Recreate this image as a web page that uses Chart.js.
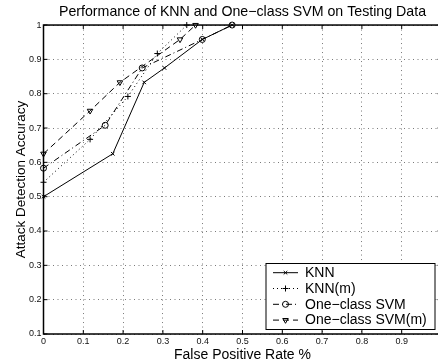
<!DOCTYPE html>
<html>
<head>
<meta charset="utf-8">
<script src="https://cdn.jsdelivr.net/npm/chart.js@4.4.1/dist/chart.umd.min.js"></script>
<style>
  html, body { margin: 0; padding: 0; background: #fff; overflow: hidden; }
  #wrap { width: 444px; height: 364px; }
</style>
</head>
<body>
<div id="wrap"><canvas id="perf" width="444" height="364"></canvas></div>
<script>
// values
const seriesNames = ["KNN", "KNN(m)", "One\u2212class SVM", "One\u2212class SVM(m)"];

const knnFpr = [0, 0.174, 0.253, 0.304, 0.399, 0.474];
const knnAcc = [0.5, 0.625, 0.833, 0.875, 0.958, 1.0];

const knnMFpr = [0, 0.117, 0.212, 0.286, 0.36];
const knnMAcc = [0.542, 0.667, 0.792, 0.917, 1.0];

const svmFpr = [0, 0.155, 0.248, 0.399, 0.474];
const svmAcc = [0.583, 0.708, 0.875, 0.958, 1.0];

const svmMFpr = [0, 0.117, 0.192, 0.343, 0.382];
const svmMAcc = [0.625, 0.75, 0.833, 0.958, 1.0];

const xTicks = [0, 0.1, 0.2, 0.3, 0.4, 0.5, 0.6, 0.7, 0.8, 0.9, 1];
const yTicks = [0.1, 0.2, 0.3, 0.4, 0.5, 0.6, 0.7, 0.8, 0.9, 1];

const FONT = "'Liberation Sans', Arial, Helvetica, sans-serif";

function pts(xs, ys) {
  return xs.map((x, i) => ({ x: x, y: ys[i] }));
}

function fmt(v) {
  return String(Math.round(v * 10) / 10);
}

const lineStyles = [
  { dash: [], pointStyle: "crossRot", radius: 2.5, rotation: 0 },
  { dash: [1, 3], pointStyle: "cross", radius: 3, rotation: 0 },
  { dash: [6, 3, 1, 3], pointStyle: "circle", radius: 3, rotation: 0 },
  { dash: [6, 4], pointStyle: "triangle", radius: 3.2, rotation: 180 }
];

const allData = [pts(knnFpr, knnAcc), pts(knnMFpr, knnMAcc), pts(svmFpr, svmAcc), pts(svmMFpr, svmMAcc)];

const datasets = allData.map((d, i) => ({
  label: seriesNames[i],
  data: d,
  showLine: true,
  borderColor: "#000",
  borderWidth: 1,
  borderDash: lineStyles[i].dash,
  pointStyle: lineStyles[i].pointStyle,
  pointRadius: lineStyles[i].radius,
  pointRotation: lineStyles[i].rotation,
  pointBorderColor: "#000",
  pointBackgroundColor: "rgba(0,0,0,0)",
  pointBorderWidth: 1,
  clip: false
}));

// frame, inward tick marks and the boxed legend
const framePlugin = {
  id: "frame",
  afterDraw(chart) {
    const ctx = chart.ctx;
    const a = chart.chartArea;
    const xs = chart.scales.x, ys = chart.scales.y;
    ctx.save();
    ctx.strokeStyle = "#000";
    ctx.lineWidth = 1.5;
    ctx.strokeRect(a.left, a.top, a.right - a.left, a.bottom - a.top);
    ctx.lineWidth = 1;
    ctx.beginPath();
    xTicks.forEach(v => {
      const px = xs.getPixelForValue(v);
      ctx.moveTo(px, a.bottom); ctx.lineTo(px, a.bottom - 4);
      ctx.moveTo(px, a.top); ctx.lineTo(px, a.top + 4);
    });
    yTicks.forEach(v => {
      const py = ys.getPixelForValue(v);
      ctx.moveTo(a.left, py); ctx.lineTo(a.left + 4, py);
      ctx.moveTo(a.right, py); ctx.lineTo(a.right - 4, py);
    });
    ctx.stroke();

    // legend
    const lx = 266, ly = 263.5, lw = 169, lh = 66;
    ctx.fillStyle = "#fff";
    ctx.fillRect(lx, ly, lw, lh);
    ctx.strokeStyle = "#000";
    ctx.lineWidth = 1;
    ctx.strokeRect(lx, ly, lw, lh);
    ctx.font = "14px " + FONT;
    ctx.textBaseline = "middle";
    chart.data.datasets.forEach((ds, i) => {
      const y = 272.7 + i * 15.8;
      ctx.save();
      ctx.strokeStyle = "#000";
      ctx.lineWidth = 1;
      ctx.setLineDash(ds.borderDash);
      ctx.beginPath();
      ctx.moveTo(273, y); ctx.lineTo(298, y);
      ctx.stroke();
      ctx.setLineDash([]);
      ctx.fillStyle = "rgba(0,0,0,0)";
      Chart.helpers.drawPoint(ctx, {
        pointStyle: ds.pointStyle,
        radius: ds.pointRadius,
        rotation: ds.pointRotation,
        borderWidth: 1
      }, 285.5, y);
      ctx.restore();
      ctx.fillStyle = "#000";
      ctx.fillText(ds.label, 305, y + 0.5);
    });
    ctx.restore();
  }
};

new Chart(document.getElementById("perf"), {
  type: "scatter",
  data: { datasets: datasets },
  options: {
    responsive: false,
    animation: false,
    layout: { autoPadding: false, padding: { top: 0, right: 2.5, bottom: 0, left: 0 } },
    plugins: {
      legend: { display: false },
      tooltip: { enabled: false },
      title: {
        display: true,
        fullSize: false,
        text: "Performance of KNN and One\u2212class SVM on Testing Data",
        color: "#000",
        font: { family: FONT, size: 14.2, weight: "normal" },
        padding: { top: 4, bottom: 4 }
      }
    },
    scales: {
      x: {
        type: "linear",
        min: 0,
        max: 1,
        afterFit: s => { s.height = 30; s.paddingLeft = 0; s.paddingRight = 0; },
        afterBuildTicks: s => { s.ticks = xTicks.map(v => ({ value: v })); },
        ticks: {
          color: "#111",
          font: { family: FONT, size: 9 },
          padding: 2,
          maxRotation: 0,
          autoSkip: false,
          callback: v => (v >= 0.999 ? "" : fmt(v))
        },
        grid: { color: "#7a7a7a", lineWidth: 1, drawTicks: false },
        border: { display: false, dash: [1, 3.5] },
        title: {
          display: true,
          text: "False Positive Rate %",
          color: "#000",
          font: { family: FONT, size: 14 },
          padding: { top: 0, bottom: 0 }
        }
      },
      y: {
        type: "linear",
        min: 0.1,
        max: 1,
        afterFit: s => { s.width = 43.5; s.paddingTop = 0; s.paddingBottom = 0; },
        afterBuildTicks: s => { s.ticks = yTicks.map(v => ({ value: v })); },
        ticks: {
          color: "#111",
          font: { family: FONT, size: 9 },
          padding: 2,
          autoSkip: false,
          callback: v => fmt(v)
        },
        grid: { color: "#7a7a7a", lineWidth: 1, drawTicks: false },
        border: { display: false, dash: [1, 3.5] },
        title: {
          display: true,
          text: "Attack Detection Accuracy",
          color: "#000",
          font: { family: FONT, size: 13.5 },
          padding: { top: 12.9, bottom: 0 }
        }
      }
    }
  },
  plugins: [framePlugin]
});
</script>
</body>
</html>
